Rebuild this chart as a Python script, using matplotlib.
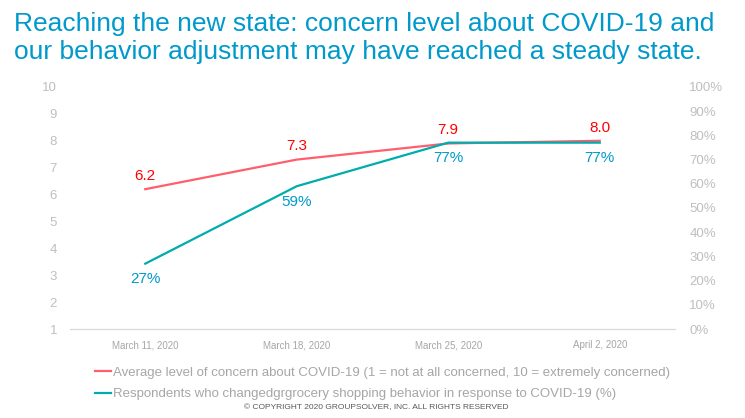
import matplotlib.pyplot as plt
from matplotlib.ticker import PercentFormatter

plt.rcParams['font.family'] = ['Liberation Sans', 'DejaVu Sans']

# Данные
dates = ['March 11, 2020', 'March 18, 2020', 'March 25, 2020', 'April 2, 2020']
concern = [6.2, 7.3, 7.9, 8.0]
changed = [0.27, 0.59, 0.77, 0.77]
concern_labels = ['6.2', '7.3', '7.9', '8.0']
changed_labels = ['27%', '59%', '77%', '77%']

red_line = '#FF5F6D'
red_text = '#FF0000'
teal_line = '#00ACAC'
blue_text = '#0099CC'
gray = '#A6A6A6'

fig = plt.figure(figsize=(7.45, 4.18), dpi=100)
ax = fig.add_axes([0.0933, 0.2129, 0.8134, 0.579])
ax2 = ax.twinx()

x = list(range(len(dates)))
l1, = ax.plot(x, concern, color=red_line, linewidth=1.6,
              label='Average level of concern about COVID-19 (1 = not at all concerned, 10 = extremely concerned)')
l2, = ax2.plot(x, changed, color=teal_line, linewidth=1.6,
               label='Respondents who changedgrgrocery shopping behavior in response to COVID-19 (%)')

for xi, v, t in zip(x, concern, concern_labels):
    ax.annotate(t, (xi, v), xytext=(0, 4.5), textcoords='offset points',
                ha='center', va='bottom', color=red_text, fontsize=11)
for xi, v, t in zip(x, changed, changed_labels):
    ax2.annotate(t, (xi, v), xytext=(0, -6), textcoords='offset points',
                 ha='center', va='top', color=blue_text, fontsize=11)

ax.set_xlim(-0.5, len(dates) - 0.5)
ax.set_ylim(1, 10)
ax.set_yticks(range(1, 11))
ax2.set_ylim(0, 1)
ax2.set_yticks([i / 10 for i in range(11)])
ax2.yaxis.set_major_formatter(PercentFormatter(1.0, decimals=0))

ax.set_xticks(x)
ax.set_xticklabels(dates, fontsize=7, color=gray)
ax.tick_params(axis='x', length=0, pad=8)
ax.tick_params(axis='y', length=0, labelsize=9.5, labelcolor='#BFBFBF', pad=9)
ax2.tick_params(axis='y', length=0, labelsize=9.5, labelcolor='#BFBFBF', pad=10)

for a in (ax, ax2):
    for s in ('top', 'left', 'right'):
        a.spines[s].set_visible(False)
    a.spines['bottom'].set_color('#D9D9D9')

fig.text(0.019, 0.972, 'Reaching the new state: concern level about COVID-19 and\n'
         'our behavior adjustment may have reached a steady state.',
         ha='left', va='top', fontsize=19, color='#0099CC', linespacing=1.2)

fig.legend(handles=[l1, l2], loc='upper left', bbox_to_anchor=(0.128, 0.123),
           frameon=False, fontsize=9.5, labelcolor=gray, handlelength=1.2,
           handletextpad=0.1, borderaxespad=0, borderpad=0, labelspacing=0.7)

fig.text(0.505, 0.026, '© COPYRIGHT 2020 GROUPSOLVER, INC. ALL RIGHTS RESERVED',
         ha='center', va='center', fontsize=6, color='#595959')

fig.savefig('out.png', dpi=100)
